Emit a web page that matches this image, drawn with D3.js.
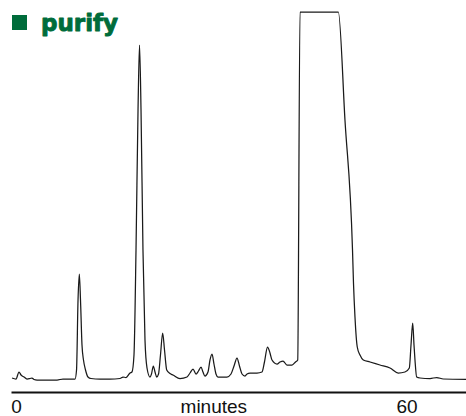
<!DOCTYPE html>
<html>
<head>
<meta charset="utf-8">
<script src="https://cdn.jsdelivr.net/npm/d3@7"></script>
<style>
  html, body { margin: 0; padding: 0; background: #fff; }
  svg { display: block; }
</style>
</head>
<body>
<svg id="chart" width="466" height="416"></svg>
<script>
// Chromatogram of the "purify" run: detector signal against retention time.
const title = "purify";
const axisLabel = "minutes";
const tickLabels = [0, 60];
const axisLabelAt = 30.4;           // minutes, where the axis caption sits

// retention time (minutes)
const times = [
  -0.61, 0.00, 0.46, 0.77, 1.23, 1.69, 2.15, 2.46, 2.77, 3.23,
  6.30, 7.22, 9.07, 9.30, 9.53, 9.73, 9.91, 10.14, 10.37, 10.68,
  11.06, 11.52, 12.91, 14.44, 15.98, 16.44, 16.90, 17.52, 17.82, 18.13,
  18.44, 18.75, 18.98, 19.21, 19.51, 19.82, 20.13, 20.59, 20.82, 21.10,
  21.36, 21.62, 21.90, 22.20, 22.54, 22.82, 23.16, 23.66, 24.12, 25.20,
  26.28, 26.74, 27.20, 27.66, 28.04, 28.43, 28.73, 29.04, 29.50, 29.81,
  30.12, 30.42, 30.73, 31.04, 32.42, 33.04, 33.50, 33.96, 34.34, 34.73,
  35.19, 35.50, 35.96, 37.03, 37.80, 38.18, 38.65, 39.03, 39.34, 40.11,
  40.57, 41.03, 41.64, 42.41, 42.95, 43.29, 43.64, 49.53, 50.55, 51.71,
  51.86, 52.09, 52.44, 52.86, 53.37, 54.40, 55.93, 57.47, 58.74, 59.77,
  60.44, 60.70, 60.96, 61.16, 61.31, 61.57, 62.08, 63.62, 64.65, 65.66,
  69.15
];

// detector response (mV); the main fraction saturates at the top of the range
const signal = [
  2, 1, 8, 5, 3, 1, 1.5, 2, 0.5, 0,
  0, 1, 1, 10, 80, 106, 80, 35, 20, 10,
  3, 1.5, 1, 1, 1.5, 3, 2.5, 7, 8, 25,
  130, 270, 335, 270, 130, 40, 12, 3, 6, 14,
  8, 3, 6, 25, 47, 30, 10, 6.5, 5, 1.5,
  3, 7, 11, 6, 9, 13, 8, 4, 8, 20,
  26, 16, 6, 3, 3, 6, 14, 22, 14, 6,
  4, 6, 7, 7, 8, 18, 33, 27, 20, 16,
  18, 19, 15, 15, 18, 20, 368, 368, 260, 130,
  97, 63, 33, 25, 20, 18, 15, 12, 7, 8,
  12, 35, 57, 35, 20, 3, 2, 1.5, 2.5, 1,
  0.7
];

const trace = times.map((t, i) => ({ t, v: signal[i] }));

const svg = d3.select("#chart");

const x = d3.scaleLinear().domain([-0.77, 69.15]).range([11, 466]);
const y = d3.scaleLinear().domain([0, 368]).range([380, 12]);

// Signal trace
const line = d3.line()
  .x(d => x(d.t))
  .y(d => y(d.v))
  .curve(d3.curveMonotoneX);

svg.append("path")
  .datum(trace)
  .attr("d", line)
  .attr("fill", "none")
  .attr("stroke", "#1a1a1a")
  .attr("stroke-width", 1.25)
  .attr("stroke-linejoin", "round");

// Time axis
const axis = d3.axisBottom(x)
  .tickValues(tickLabels)
  .tickFormat(d3.format("d"))
  .tickSize(0)
  .tickSizeOuter(0);

const gAxis = svg.append("g")
  .attr("transform", "translate(0,392)")
  .call(axis);

gAxis.select(".domain")
  .attr("stroke", "#111")
  .attr("stroke-width", 2.2);

gAxis.selectAll(".tick text")
  .attr("y", 21)
  .attr("dy", 0)
  .attr("fill", "#111")
  .style("font-family", "'Liberation Sans', Arial, Helvetica, sans-serif")
  .style("font-size", "19px");

gAxis.append("text")
  .attr("x", x(axisLabelAt))
  .attr("y", 21)
  .attr("text-anchor", "middle")
  .attr("fill", "#111")
  .style("font-family", "'Liberation Sans', Arial, Helvetica, sans-serif")
  .style("font-size", "19px")
  .text(axisLabel);

// Title with its square marker
const green = "#006c3b";
svg.append("rect")
  .attr("x", 12)
  .attr("y", 15)
  .attr("width", 15)
  .attr("height", 15)
  .attr("fill", green);

svg.append("text")
  .attr("x", 41)
  .attr("y", 31)
  .attr("fill", green)
  .attr("stroke", green)
  .attr("stroke-width", 0.9)
  .attr("stroke-linejoin", "round")
  .style("font-family", "'DejaVu Sans', sans-serif")
  .style("font-weight", "bold")
  .style("font-size", "23px")
  .text(title);
</script>
</body>
</html>
